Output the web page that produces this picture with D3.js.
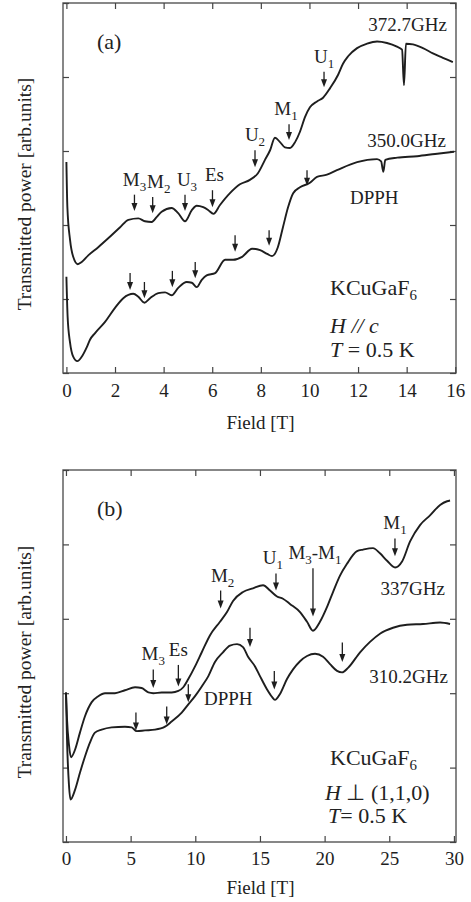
<!DOCTYPE html>
<html><head><meta charset="utf-8">
<script src="https://cdn.jsdelivr.net/npm/d3@7"></script>
<style>body{margin:0;background:#fff}</style>
</head><body>
<svg id="c" width="471" height="902"></svg>
<script>
// ---------- data ----------
const fieldTicksA = [0,2,4,6,8,10,12,14,16];
const fieldTicksB = [0,5,10,15,20,25,30];
const powerTicks = [0,1,2,3,4,5];

// panel (a): H // c, field [T], transmitted power [arb. units]
const curveA372 = [[0.00,2.85],[0.04,2.24],[0.15,1.80],[0.28,1.57],[0.47,1.47],[0.63,1.50],[0.90,1.59],[1.31,1.70],[1.72,1.82],[2.21,1.97],[2.55,2.07],[2.96,2.09],[3.23,2.05],[3.51,2.04],[3.72,2.11],[3.92,2.18],[4.33,2.23],[4.60,2.16],[4.88,2.05],[5.16,2.20],[5.36,2.26],[5.63,2.24],[5.84,2.20],[6.05,2.15],[6.32,2.27],[6.73,2.43],[7.14,2.55],[7.55,2.61],[7.88,2.70],[8.17,2.88],[8.38,3.01],[8.58,3.18],[8.79,3.12],[8.99,3.05],[9.20,3.04],[9.41,3.12],[9.61,3.26],[9.82,3.46],[10.02,3.59],[10.31,3.67],[10.56,3.72],[10.85,3.85],[11.18,4.03],[11.38,4.18],[11.59,4.28],[11.96,4.39],[12.37,4.45],[12.78,4.48],[13.19,4.46],[13.60,4.41],[13.81,4.37],[13.89,3.89],[13.97,4.45],[14.26,4.44],[14.67,4.39],[15.08,4.32],[15.49,4.26],[15.90,4.20]];
const curveA350 = [[0.00,1.30],[0.05,0.76],[0.15,0.41],[0.28,0.22],[0.45,0.16],[0.63,0.22],[0.84,0.35],[0.97,0.45],[1.18,0.54],[1.59,0.69],[2.00,0.88],[2.34,1.01],[2.75,1.07],[2.96,1.03],[3.21,0.95],[3.44,1.01],[3.78,1.08],[4.06,1.09],[4.33,1.05],[4.60,1.15],[4.95,1.23],[5.16,1.22],[5.36,1.16],[5.57,1.26],[5.77,1.32],[6.12,1.35],[6.53,1.53],[6.86,1.53],[7.23,1.57],[7.64,1.68],[7.97,1.66],[8.26,1.61],[8.46,1.58],[8.70,1.70],[8.91,1.97],[9.12,2.24],[9.33,2.43],[9.61,2.51],[10.02,2.57],[10.31,2.65],[10.72,2.68],[11.13,2.74],[11.96,2.85],[12.78,2.89],[12.95,2.86],[13.04,2.72],[13.12,2.88],[13.61,2.91],[14.43,2.93],[15.17,2.96],[15.95,2.99]];
// arrows: field, arrow start value, arrow tip value, label parts (text, subscript, ...)
const arrowsA372 = [[2.80,2.41,2.19,"M","3"],[3.55,2.38,2.16,"M","2"],[4.88,2.41,2.19,"U","3"],[6.01,2.47,2.24,"Es",""],[7.76,3.01,2.78,"U","2"],[9.16,3.36,3.15,"M","1"],[10.60,4.07,3.86,"U","1"]];
const arrowsA350 = [[2.62,1.35,1.12],[3.21,1.23,1.01],[4.36,1.38,1.16],[5.30,1.50,1.28],[6.94,1.86,1.64],[8.34,1.93,1.72],[9.90,2.74,2.53]];

// panel (b): H perpendicular (1,1,0)
const curveB337 = [[0.00,2.01],[0.08,1.65],[0.23,1.31],[0.39,1.14],[0.70,1.24],[1.08,1.47],[1.47,1.69],[1.99,1.88],[2.50,1.96],[3.02,2.00],[3.79,2.00],[4.56,2.04],[5.34,2.08],[5.85,2.07],[6.37,2.01],[6.75,2.00],[7.40,2.01],[8.17,2.01],[8.69,2.03],[9.07,2.08],[9.46,2.19],[9.98,2.36],[10.50,2.55],[11.14,2.78],[11.91,2.96],[12.45,3.09],[12.92,3.24],[13.69,3.36],[14.46,3.41],[15.24,3.45],[15.78,3.38],[16.32,3.30],[16.78,3.27],[17.32,3.20],[18.10,3.09],[18.64,2.96],[19.10,2.84],[19.64,2.96],[20.19,3.16],[20.65,3.36],[21.19,3.58],[21.73,3.74],[22.51,3.91],[22.97,3.93],[23.74,3.95],[24.28,3.88],[24.83,3.78],[25.45,3.69],[25.99,3.77],[26.61,4.04],[27.38,4.26],[28.15,4.39],[28.93,4.53],[29.47,4.58],[29.70,4.59]];
const curveB310 = [[0.00,2.01],[0.08,1.38],[0.23,0.77],[0.35,0.57],[0.70,0.70],[1.08,0.93],[1.47,1.15],[1.86,1.34],[2.24,1.47],[2.76,1.51],[3.53,1.54],[4.56,1.55],[5.08,1.54],[5.47,1.49],[6.11,1.50],[6.88,1.51],[7.66,1.55],[8.17,1.62],[8.95,1.74],[9.46,1.85],[9.98,1.96],[10.50,2.09],[11.01,2.23],[11.52,2.42],[12.14,2.55],[12.68,2.64],[13.23,2.66],[13.69,2.62],[14.08,2.49],[14.62,2.36],[15.00,2.23],[15.55,2.05],[15.93,1.95],[16.16,1.91],[16.55,1.99],[17.09,2.19],[17.56,2.32],[18.10,2.43],[18.64,2.50],[19.26,2.53],[19.88,2.49],[20.42,2.39],[20.96,2.30],[21.35,2.28],[21.81,2.34],[22.74,2.55],[23.51,2.69],[24.28,2.80],[25.29,2.88],[26.37,2.92],[27.61,2.93],[28.93,2.95],[29.70,2.93]];
const arrowsB337 = [[6.75,2.32,2.07,"M","3"],[8.69,2.38,2.09,"Es",""],[11.96,3.38,3.14,"M","2"],[16.24,3.61,3.38,"U","1"],[19.10,3.68,3.03,"M","3","-M","1"],[25.44,4.08,3.84,"M","1"]];
const arrowsB310 = [[5.41,1.74,1.50],[7.79,1.82,1.58],[9.46,2.12,1.88],[14.23,2.88,2.62],[16.11,2.30,2.05],[21.37,2.68,2.42]];

// ---------- drawing ----------
const FONT = "Liberation Serif";
const svg = d3.select("#c");
const ink = "#1e1e1e";
// small horizontal nudges of arrow labels (px), layout only
const labelNudge = {"a:M2":6,"a:U3":2,"a:Es":2,"a:M1":-3,"b:M2":2,"b:U1":-3,"b:M3-M1":2};

function mkText(sel){ return sel.append("text").attr("font-family",FONT).attr("fill","#222"); }

function panel(cfg){
  const x = d3.scaleLinear().domain(cfg.xDomain).range([cfg.left, cfg.right]);
  const y = d3.scaleLinear().domain([0,5]).range([cfg.bottom, cfg.top]);
  const g = svg.append("g");
  const id = "clip" + cfg.name;
  svg.append("clipPath").attr("id", id).append("rect")
    .attr("x", cfg.left).attr("y", cfg.top)
    .attr("width", cfg.right-cfg.left).attr("height", cfg.bottom-cfg.top);

  g.append("rect").attr("x", cfg.left).attr("y", cfg.top)
    .attr("width", cfg.right-cfg.left).attr("height", cfg.bottom-cfg.top)
    .attr("fill","none").attr("stroke","#555").attr("stroke-width",1.4);

  const styleAxis = a => { a.select(".domain").remove(); a.selectAll("line").attr("stroke","#444").attr("stroke-width",1.2); };
  const bottom = g.append("g").attr("transform",`translate(0,${cfg.bottom})`)
    .call(d3.axisBottom(x).tickValues(cfg.xTicks).tickSize(-6).tickPadding(cfg.pad).tickFormat(d3.format("d")));
  styleAxis(bottom);
  bottom.attr("font-family",FONT).attr("font-size",19);
  bottom.selectAll("text").attr("font-family",FONT).attr("font-size",19).attr("fill",ink);
  styleAxis(g.append("g").attr("transform",`translate(0,${cfg.top})`)
    .call(d3.axisTop(x).tickValues(cfg.xTicks).tickSize(-6).tickFormat("")));
  styleAxis(g.append("g").attr("transform",`translate(${cfg.left},0)`)
    .call(d3.axisLeft(y).tickValues(powerTicks).tickSize(-6).tickFormat("")));
  styleAxis(g.append("g").attr("transform",`translate(${cfg.right},0)`)
    .call(d3.axisRight(y).tickValues(powerTicks).tickSize(-6).tickFormat("")));

  const line = d3.line().x(d=>x(d[0])).y(d=>y(d[1])).curve(d3.curveMonotoneX);
  cfg.curves.forEach(c=>{
    g.append("path").datum(c).attr("d", line).attr("fill","none")
      .attr("stroke", ink).attr("stroke-width",1.9).attr("stroke-linejoin","round")
      .attr("clip-path",`url(#${id})`);
  });

  cfg.arrows.forEach(set => set.forEach(a=>{
    const ax = x(a[0]), y0 = y(a[1]), y1 = y(a[2]);
    g.append("line").attr("x1",ax).attr("x2",ax).attr("y1",y0).attr("y2",y1-6)
      .attr("stroke",ink).attr("stroke-width",1.3);
    g.append("path").attr("d",`M${ax-3},${y1-8}L${ax+3},${y1-8}L${ax},${y1}Z`).attr("fill",ink);
    if (a.length > 3){
      const lbl = a.slice(3).join("");
      const nudge = labelNudge[cfg.name + ":" + lbl] || 0;
      const t = mkText(g).attr("x",ax+nudge).attr("y",y0-9).attr("text-anchor","middle").attr("font-size",19);
      let down = false;
      for (let i=3;i<a.length;i+=2){
        const s = t.append("tspan").text(a[i]);
        if (down) { s.attr("dy",-5); down = false; }
        if (a[i+1]) { t.append("tspan").attr("font-size",13).attr("dy",5).text(a[i+1]); down = true; }
      }
    }
  }));

  mkText(svg).attr("transform",`translate(31,${(cfg.top+cfg.bottom)/2+6}) rotate(-90)`)
    .attr("text-anchor","middle").attr("font-size",19.5).text("Transmitted power [arb.units]");
  mkText(svg).attr("x",(cfg.left+cfg.right)/2+1).attr("y",cfg.xLabelY)
    .attr("text-anchor","middle").attr("font-size",19).text("Field [T]");
  return {x,y,g};
}

panel({name:"a", left:63, right:456, top:3, bottom:373, xDomain:[-0.14,16.03],
  xTicks:fieldTicksA, pad:11, xLabelY:429, curves:[curveA372,curveA350], arrows:[arrowsA372,arrowsA350]});
panel({name:"b", left:63, right:456, top:470, bottom:842, xDomain:[-0.23,30.16],
  xTicks:fieldTicksB, pad:10, xLabelY:894, curves:[curveB337,curveB310], arrows:[arrowsB337,arrowsB310]});

function txt(x,y,size,parts,anchor){
  const t = mkText(svg).attr("x",x).attr("y",y).attr("font-size",size).attr("text-anchor",anchor||"start");
  parts.forEach(p=>{
    const s = t.append("tspan").text(p.t);
    if (p.i) s.attr("font-style","italic");
    if (p.sub) s.attr("font-size",size*0.68).attr("dy",5);
  });
  return t;
}
// panel (a) annotations
txt(97,49,22,[{t:"(a)"}]);
txt(447,31,19,[{t:"372.7GHz"}],"end");
txt(446,147,19,[{t:"350.0GHz"}],"end");
txt(350,204,19,[{t:"DPPH"}]);
txt(330,295,22,[{t:"KCuGaF"},{t:"6",sub:true}]);
txt(330,333,22,[{t:"H // c",i:true}]);
txt(330,357,22,[{t:"T",i:true},{t:" = 0.5 K"}]);
// panel (b) annotations
txt(97,516,22,[{t:"(b)"}]);
txt(445,595,19,[{t:"337GHz"}],"end");
txt(448,683,19,[{t:"310.2GHz"}],"end");
txt(204,705,19,[{t:"DPPH"}]);
txt(330,765,22,[{t:"KCuGaF"},{t:"6",sub:true}]);
txt(325,800,22,[{t:"H",i:true},{t:" ⊥ (1,1,0)"}]);
txt(328,823,22,[{t:"T",i:true},{t:"= 0.5 K"}]);
</script>
</body></html>
